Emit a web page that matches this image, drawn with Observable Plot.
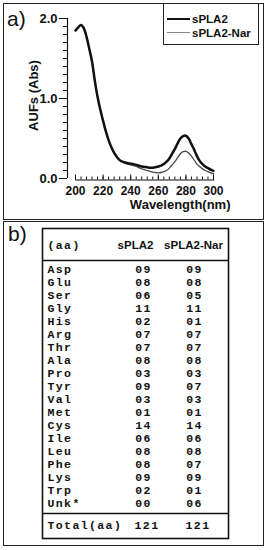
<!DOCTYPE html>
<html><head><meta charset="utf-8">
<script src="https://cdn.jsdelivr.net/npm/d3@7"></script>
<script src="https://cdn.jsdelivr.net/npm/@observablehq/plot@0.6"></script>
<style>
html,body{margin:0;padding:0;background:#fff;}
#root{position:relative;width:267px;height:550px;overflow:hidden;font-family:'Liberation Sans',Arial,sans-serif;color:#111;}
.box{position:absolute;border:1.5px solid #222;box-sizing:border-box;}
.tag{position:absolute;font-size:21px;line-height:21px;}
.plotwrap{position:absolute;left:0;}
#legend{position:absolute;left:163px;top:3px;width:96px;height:42px;border:1.5px solid #222;box-sizing:border-box;background:#fff;}
.lrow{position:absolute;left:0;width:100%;height:14px;}
.sw{position:absolute;left:3px;width:23px;top:7px;}
.lt{position:absolute;left:28px;top:0;font-size:11.5px;font-weight:bold;line-height:14px;}
#pb g[font-family*="Mono"] text{letter-spacing:1.4px;}
</style></head>
<body><div id="root">
<div class="box" style="left:3px;top:3px;width:261px;height:217px"></div>
<div class="box" style="left:3px;top:221px;width:261px;height:325px"></div>
<div class="plotwrap" id="pa" style="top:0"></div>
<div class="plotwrap" id="pb" style="top:220px"></div>
<div class="tag" style="left:7px;top:8px">a)</div>
<div class="tag" style="left:8px;top:223px">b)</div>
<div id="legend">
  <div class="lrow" style="top:8px"><div class="sw" style="border-top:2.6px solid #111;margin-top:-1.3px"></div><div class="lt">sPLA2</div></div>
  <div class="lrow" style="top:22px"><div class="sw" style="border-top:1.5px solid #888;margin-top:-0.75px"></div><div class="lt">sPLA2-Nar</div></div>
</div>
</div>
<script>
// ---- Panel a data: UV absorbance spectra ----
const wavelength = [200,202,204,206,208,210,212,214,216,218,220,222,224,226,228,230,232,234,236,238,240,242,244,246,248,250,252,254,256,258,260,262,264,266,268,270,272,274,276,278,280,282,284,286,288,290,292,294,296,298,300];
const sPLA2 = [1.85,1.89,1.92,1.88,1.77,1.62,1.46,1.22,1.02,0.86,0.72,0.59,0.48,0.39,0.32,0.27,0.23,0.21,0.20,0.19,0.185,0.18,0.17,0.16,0.15,0.145,0.14,0.135,0.135,0.14,0.15,0.16,0.18,0.21,0.25,0.31,0.37,0.44,0.50,0.53,0.535,0.50,0.43,0.36,0.28,0.22,0.18,0.15,0.13,0.11,0.095];
const sPLA2Nar = [1.85,1.89,1.92,1.88,1.77,1.62,1.46,1.22,1.02,0.86,0.72,0.59,0.48,0.39,0.32,0.27,0.23,0.21,0.19,0.18,0.17,0.16,0.15,0.135,0.12,0.11,0.10,0.09,0.08,0.075,0.07,0.075,0.085,0.10,0.13,0.17,0.21,0.26,0.31,0.335,0.34,0.32,0.28,0.23,0.18,0.15,0.12,0.10,0.085,0.07,0.06];
const yMajor = [0, 1, 2];
const yMinor = [0,0.1,0.2,0.3,0.4,0.5,0.6,0.7,0.8,0.9,1,1.1,1.2,1.3,1.4,1.5,1.6,1.7,1.8,1.9,2];
const xMajor = [200, 220, 240, 260, 280, 300];
const xMinor = [200,204,208,212,216,220,224,228,232,236,240,244,248,252,256,260,264,268,272,276,280,284,288,292,296,300];

// ---- Panel b data: amino acid composition ----
const aminoAcids = ["Asp","Glu","Ser","Gly","His","Arg","Thr","Ala","Pro","Tyr","Val","Met","Cys","Ile","Leu","Phe","Lys","Trp","Unk*"];
const sPLA2Counts = [9,8,6,11,2,7,7,8,3,9,3,1,14,6,8,8,9,2,0];
const narCounts   = [9,8,5,11,1,7,7,8,3,7,3,1,14,6,8,7,9,1,6];
const columns = ["sPLA2", "sPLA2-Nar"];
const totals = [121, 121];

const blackRows = wavelength.map((w, i) => ({w, v: sPLA2[i]}));
const grayRows = wavelength.map((w, i) => ({w, v: sPLA2Nar[i]}));
const SANS = "'Liberation Sans', Arial, sans-serif";
const MONO = "'Liberation Mono', 'DejaVu Sans Mono', monospace";

const pa = Plot.plot({
  width: 267, height: 220,
  marginLeft: 75, marginRight: 54, marginTop: 18, marginBottom: 42,
  x: {domain: [200, 300]},
  y: {domain: [0, 2]},
  style: {background: "transparent", fontFamily: SANS, color: "#111", overflow: "visible"},
  marks: [
    Plot.line(grayRows, {x: "w", y: "v", stroke: "#4a4a4a", strokeWidth: 1.3, curve: "catmull-rom"}),
    Plot.line(blackRows, {x: "w", y: "v", stroke: "#111", strokeWidth: 2.5, curve: "catmull-rom"}),
    Plot.ruleX([200], {y1: 0, y2: 2, dx: -8, stroke: "#111", strokeWidth: 1.2}),
    Plot.ruleY([0], {x1: 200, x2: 301, dy: 1.5, stroke: "#111", strokeWidth: 1.2}),
    Plot.axisY(yMinor, {tickSize: 4, dx: -8, fill: "none", stroke: "#111", label: null}),
    Plot.axisY(yMajor, {tickSize: 8, tickPadding: 2, dx: -8, stroke: "#111", fill: "#111", tickFormat: d => d.toFixed(1), fontSize: 13, fontWeight: "bold", label: null}),
    Plot.axisX(xMinor, {tickSize: 3, dy: -1.5, fill: "none", stroke: "#111", label: null}),
    Plot.axisX(xMajor, {tickSize: 5, dy: -3.5, tickPadding: 6, stroke: "#111", fill: "#111", tickFormat: d => String(d), fontSize: 12, fontWeight: "bold", label: null}),
    Plot.text(["AUFs (Abs)"], {text: d => d, frameAnchor: "left", textAnchor: "middle", rotate: -90, dx: -42, dy: -3, fontSize: 13, fontWeight: "bold", fill: "#111"}),
    Plot.text(["Wavelength(nm)"], {text: d => d, frameAnchor: "bottom-right", textAnchor: "end", dx: 17, dy: 30, fontSize: 13, fontWeight: "bold", fill: "#111"})
  ]
});
document.getElementById("pa").appendChild(pa);

const cellRows = aminoAcids.flatMap((aa, i) => [
  {aa, col: columns[0], n: sPLA2Counts[i]},
  {aa, col: columns[1], n: narCounts[i]}
]);
const first = aminoAcids[0], last = aminoAcids[aminoAcids.length - 1];
const pad2 = n => String(n).padStart(2, "0");
const monoText = {fontFamily: MONO, fontWeight: "bold", fontSize: 11.5, fill: "#111"};

const pb = Plot.plot({
  width: 267, height: 330,
  marginLeft: 47, marginRight: 39, marginTop: 47, marginBottom: 45,
  x: {type: "point", domain: columns, range: [143, 194], padding: 0, axis: null},
  y: {type: "point", domain: aminoAcids, padding: 0, axis: null},
  style: {background: "transparent", fontFamily: SANS, color: "#111", overflow: "visible"},
  marks: [
    Plot.frame({stroke: "#111", strokeWidth: 1.6, insetTop: -39, insetBottom: -33, insetLeft: -5}),
    Plot.ruleY([first], {y: d => d, dy: -9, insetLeft: -5, stroke: "#111", strokeWidth: 1.4}),
    Plot.ruleY([last], {y: d => d, dy: 10, insetLeft: -5, stroke: "#111", strokeWidth: 1.4}),
    Plot.text(["(aa)"], {text: d => d, y: () => first, dy: -24, frameAnchor: "left", textAnchor: "start", ...monoText}),
    Plot.text([columns[0]], {text: d => d, x: d => d, y: () => first, dy: -24, dx: -8, fontWeight: "bold", fontSize: 11.5, fill: "#111"}),
    Plot.text([columns[1]], {text: d => d, x: d => d, y: () => first, dy: -24, dx: -1, fontWeight: "bold", fontSize: 11.5, fill: "#111"}),
    Plot.text(aminoAcids, {text: d => d, y: d => d, frameAnchor: "left", textAnchor: "start", ...monoText}),
    Plot.text(cellRows, {text: d => pad2(d.n), x: "col", y: "aa", ...monoText}),
    Plot.text(["Total(aa)"], {text: d => d, y: () => last, dy: 22, frameAnchor: "left", textAnchor: "start", ...monoText}),
    Plot.text(columns.map((c, i) => ({c, t: totals[i]})), {text: d => String(d.t), x: "c", y: () => last, dy: 22, dx: 3.5, ...monoText})
  ]
});
document.getElementById("pb").appendChild(pb);
</script>
</body></html>
